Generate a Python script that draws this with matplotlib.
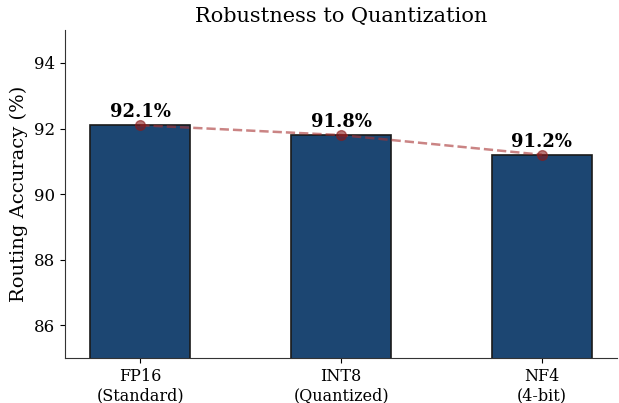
import matplotlib
matplotlib.use('Agg')
import matplotlib.pyplot as plt

categories = ['FP16\n(Standard)', 'INT8\n(Quantized)', 'NF4\n(4-bit)']
accuracy = [92.1, 91.8, 91.2]

plt.rcParams['font.family'] = 'DejaVu Serif'

fig, ax = plt.subplots(figsize=(6.19, 4.03), dpi=100)
x = range(len(categories))
ax.bar(x, accuracy, width=0.5, color='#1c4672', edgecolor='#1a1a1a', linewidth=1.2, zorder=2)
ax.plot(x, accuracy, '--', color='#a83232', alpha=0.6, linewidth=1.8, zorder=3)
ax.plot(x, accuracy, 'o', color='#8b1a1a', alpha=0.6, markersize=7, zorder=4)

for i, v in enumerate(accuracy):
    ax.text(i, v + 0.12, f'{v}%', ha='center', va='bottom', fontsize=13, fontweight='bold')

ax.set_xticks(list(x))
ax.set_xticklabels(categories, fontsize=11.5)
ax.set_ylim(85, 95)
ax.set_yticks([86, 88, 90, 92, 94])
ax.tick_params(axis='y', labelsize=12)
ax.set_ylabel('Routing Accuracy (%)', fontsize=14)
ax.set_title('Robustness to Quantization', fontsize=15)
ax.spines['top'].set_visible(False)
ax.spines['right'].set_visible(False)
for s in ['left', 'bottom']:
    ax.spines[s].set_color('#333333')

plt.subplots_adjust(left=0.105, right=0.997, top=0.925, bottom=0.112)
plt.savefig('out.png')
plt.close()
